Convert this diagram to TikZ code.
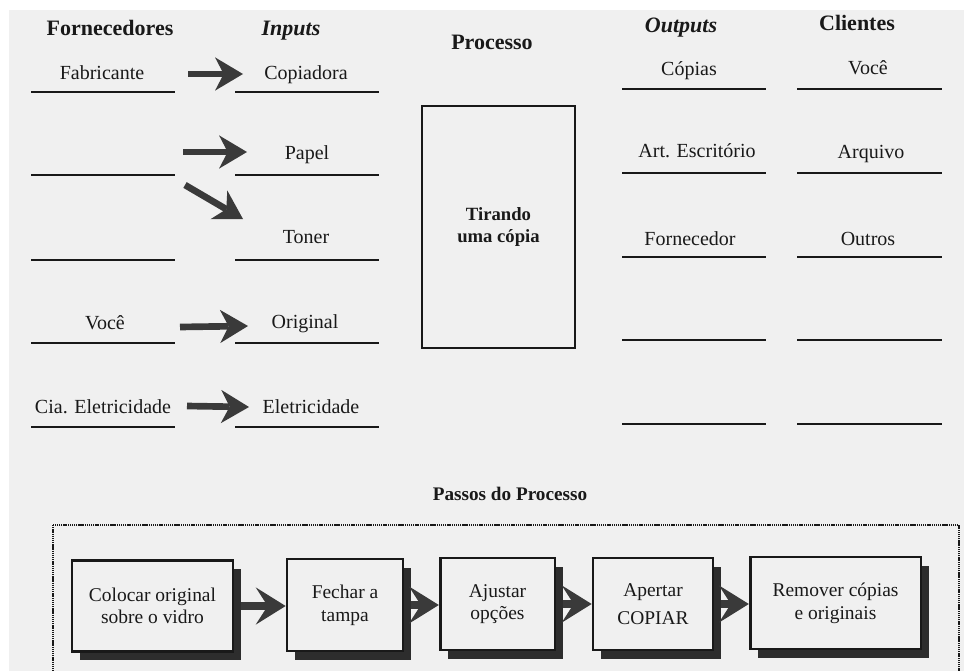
\documentclass[tikz,border=0pt]{standalone}
\usepackage{fontspec}
\setmainfont{Liberation Serif}
\usetikzlibrary{arrows.meta,calc,shadows}

\definecolor{paper}{RGB}{240,240,240}
\definecolor{ink}{RGB}{25,25,25}
\definecolor{arrowfill}{RGB}{58,58,58}
\definecolor{shade}{RGB}{45,45,45}

\begin{document}
\begin{tikzpicture}[x=0.75pt,y=-0.75pt,
  rule/.style={ink, line width=1.9pt},
  lbl/.style={anchor=base, inner sep=0pt, text=ink, font=\fontsize{15}{18}\selectfont},
  hdr/.style={anchor=base, inner sep=0pt, text=ink, font=\fontsize{16.5}{20}\selectfont\bfseries},
  feed/.style={arrowfill, line width=5pt,
    -{Stealth[length=21pt, width=25pt, inset=6.5pt, line width=0pt]}},
  flow/.style={arrowfill, line width=6.5pt,
    -{Stealth[length=22.5pt, width=28pt, inset=9pt, line width=0pt]}},
  stepbox/.style={draw=ink, line width=2pt, fill=paper, align=center, inner sep=2pt,
    text=ink, font=\fontsize{14.6}{17}\selectfont, minimum height=69pt,
    drop shadow={shadow xshift=6pt, shadow yshift=-6.5pt, fill=shade, opacity=1}},
  procbox/.style={draw=ink, line width=2pt, align=center, text=ink,
    font=\fontsize{14}{17}\selectfont\bfseries,
    minimum width=114.75pt, minimum height=181.5pt}
]
\clip (0,0) rectangle (964,671);
\fill[white] (0,0) rectangle (964,671);
\fill[paper] (9,10) rectangle (964,671);

% column headings
\node[hdr] (forn) at (110,36) {Fornecedores};
\node[hdr] (inp)  at (291,36) {\itshape Inputs};
\node[hdr] (proc) at (492,49) {Processo};
\node[hdr] (outp) at (681,32) {\itshape Outputs};
\node[hdr] (cli)  at (857,31) {Clientes};

% supplier and input rules
\foreach \y in {92,175,260,343,427} {
  \draw[rule] (31,\y) -- (175,\y);
  \draw[rule] (235,\y) -- (379,\y);
}
% output and client rules
\foreach \y in {89,173,257,340,424} {
  \draw[rule] (622,\y) -- (766,\y);
  \draw[rule] (797,\y) -- (942,\y);
}

% suppliers and inputs
\node[lbl] (fab) at (102,79)  {Fabricante};
\node[lbl] (cop) at (306,79)  {Copiadora};
\node[lbl] (pap) at (307,159) {Papel};
\node[lbl] (ton) at (306,243) {Toner};
\node[lbl] (voc) at (105,329) {Você};
\node[lbl] (ori) at (305,328) {Original};
\node[lbl] (cia) at (103,413) {Cia. Eletricidade};
\node[lbl] (ele) at (311,413) {Eletricidade};

% outputs and clients
\node[lbl] (cpi) at (689,75)  {Cópias};
\node[lbl] (art) at (697,157) {Art. Escritório};
\node[lbl] (frn) at (690,245) {Fornecedor};
\node[lbl] (vc2) at (868,74)  {Você};
\node[lbl] (arq) at (871,158) {Arquivo};
\node[lbl] (out) at (868,245) {Outros};

% supply arrows
\coordinate (a1s) at (188,74);  \coordinate (a1e) at (243,74);
\coordinate (a2s) at (183,152); \coordinate (a2e) at (247,152);
\coordinate (a3s) at (185,185); \coordinate (a3e) at (243,219);
\coordinate (a4s) at (180,327); \coordinate (a4e) at (248,326);
\coordinate (a5s) at (187,406); \coordinate (a5e) at (249,407);
\draw[feed] (a1s) -- (a1e);
\draw[feed] (a2s) -- (a2e);
\draw[feed] (a3s) -- (a3e);
\draw[feed] (a4s) -- (a4e);
\draw[feed] (a5s) -- (a5e);

% the process itself
\node[procbox] (tir) at (498.5,227) {Tirando\\uma cópia};

% process steps
\node[hdr, font=\fontsize{14.4}{17}\selectfont\bfseries] (pas) at (510,500) {Passos do Processo};
\draw[ink, line width=1.6pt, dash pattern=on 1pt off 0.6pt] (53,525) rectangle (959,700);

\node[stepbox, minimum width=120.75pt, minimum height=68.25pt] (b1) at (152.5,606) {Colocar original\\sobre o vidro};
\node[stepbox, minimum width=87pt]  (b2) at (345,605)   {Fechar a\\tampa};
\node[stepbox, minimum width=86pt]  (b3) at (497.5,604) {Ajustar\\opções};
\node[stepbox, minimum width=90pt]  (b4) at (653,604)   {Apertar\\[4pt]COPIAR};
\node[stepbox, minimum width=128pt] (b5) at (835.5,603) {Remover cópias\\e originais};

\draw[flow] ($(b1.east)+(7,0)$) -- (b1.east -| b2.west);
\draw[flow] ($(b2.east)+(7,0)$) -- (b2.east -| b3.west);
\draw[flow] ($(b3.east)+(7,0)$) -- (b3.east -| b4.west);
\draw[flow] ($(b4.east)+(7,0)$) -- (b4.east -| b5.west);
\end{tikzpicture}
\end{document}
